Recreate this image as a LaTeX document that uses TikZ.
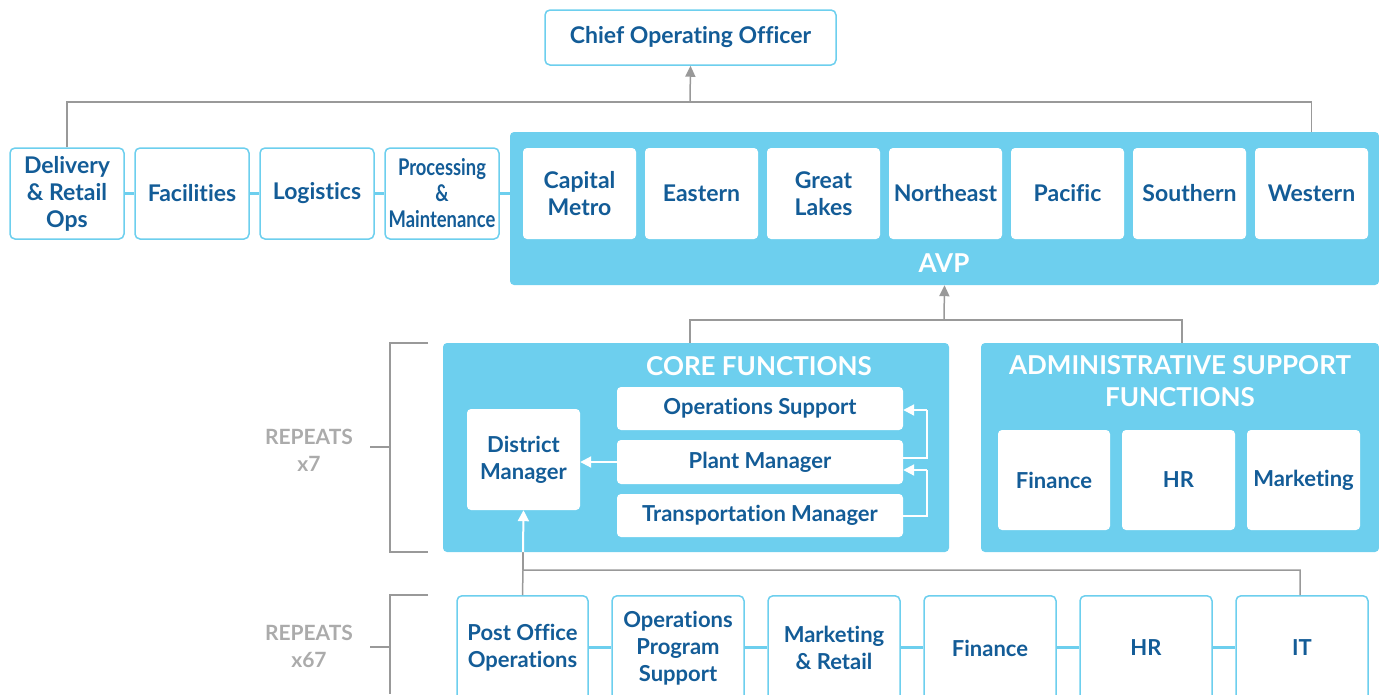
\documentclass[tikz,border=0pt]{standalone}
\usepackage{fontspec}
\setmainfont{Lato}[Ligatures=NoCommon]
\newfontfamily\condfont[FakeStretch=0.8,Ligatures=NoCommon]{Lato}
\usetikzlibrary{arrows.meta}
\definecolor{lb}{HTML}{6DCFEE}
\definecolor{db}{HTML}{135C97}
\definecolor{gl}{HTML}{999999}
\definecolor{gt}{HTML}{ABABAB}
\tikzset{
  obox/.style={draw=lb, line width=1.5pt, rounded corners=5pt, fill=white, text=db, align=center, inner sep=0pt, font=\fontsize{23}{27}\selectfont\bfseries},
  wbox/.style={draw=none, rounded corners=4pt, fill=white, text=db, align=center, inner sep=0pt, font=\fontsize{23}{27}\selectfont\bfseries},
  cbox/.style={wbox, font=\fontsize{22}{27}\selectfont\bfseries},
  panel/.style={draw=none, rounded corners=4pt, fill=lb, inner sep=0pt},
  ptitle/.style={text=white, align=center, font=\fontsize{26}{32}\selectfont\bfseries},
  lbline/.style={draw=lb, line width=3pt},
  gline/.style={draw=gl, line width=1.5pt},
  garrow/.style={draw=gl, line width=1.5pt, -{Triangle[length=11pt,width=10pt]}, fill=gl},
  warrow/.style={draw=white, line width=2pt, -{Triangle[length=11pt,width=11pt]}},
  wline/.style={draw=white, line width=2pt},
  rep/.style={text=gt, align=center, font=\fontsize{21}{27}\selectfont\bfseries},
  btext/.style={text=db, align=center, font=\fontsize{22}{27}\selectfont\bfseries},
}
\begin{document}
\begin{tikzpicture}[x=1pt,y=-1pt]
\useasboundingbox (0,0) rectangle (1379,694);
% top
\node[obox, minimum width=291, minimum height=55] (coo) at (690.5,37.5) {\raisebox{-2pt}{Chief Operating Officer}};
% AVP panel
\node[panel, minimum width=869, minimum height=153] (avp) at (944.5,208.5) {};
\node[ptitle] (avpl) at (944,263) {AVP};
% left top row
\node[obox, minimum width=114, minimum height=91] (dro) at (67,193.5) {Delivery\\\& Retail\\Ops};
\node[obox, minimum width=114, minimum height=91] (fac) at (192,193.5) {Facilities};
\node[obox, minimum width=114, minimum height=91] (log) at (317,193.5) {Logistics};
\node[obox, minimum width=114, minimum height=91, font=\condfont\fontsize{23}{26}\selectfont\bfseries] (pro) at (442,193.5) {Processing\\\&\\Maintenance};
\draw[lbline] (dro) -- (fac);
\draw[lbline] (fac) -- (log);
\draw[lbline] (log) -- (pro);
\draw[lbline] (pro.east) -- (pro.east -| avp.west);
% regions
\node[wbox, minimum width=113, minimum height=91] (cap) at (579.5,193.5) {Capital\\Metro};
\node[wbox, minimum width=113, minimum height=91] (eas) at (701.5,193.5) {Eastern};
\node[wbox, minimum width=113, minimum height=91] (grl) at (823.5,193.5) {Great\\Lakes};
\node[wbox, minimum width=113, minimum height=91] (nor) at (945.5,193.5) {Northeast};
\node[wbox, minimum width=113, minimum height=91] (pac) at (1067.5,193.5) {Pacific};
\node[wbox, minimum width=113, minimum height=91] (sou) at (1189.5,193.5) {Southern};
\node[wbox, minimum width=113, minimum height=91] (wes) at (1311.5,193.5) {Western};
% top connectors
\coordinate (j1) at (690,102);
\draw[gline] (dro.north) |- (j1) -- (wes.center |- j1) -- (wes.center |- avp.north);
\draw[garrow] (j1) -- (coo.south);
% middle panels
\node[panel, minimum width=506, minimum height=209] (core) at (696,447.5) {};
\node[ptitle] (corel) at (759,366) {CORE FUNCTIONS};
\node[panel, minimum width=398, minimum height=209] (adm) at (1180,447.5) {};
\node[ptitle] (adml) at (1180,381.5) {ADMINISTRATIVE SUPPORT\\FUNCTIONS};
\coordinate (j2) at (944,320);
\draw[gline] (690,0 |- core.north) coordinate (ct) -- (ct |- j2) -- (1182,320) coordinate (at) -- (at |- adm.north);
\draw[garrow] (j2) -- (avp.south);
% admin boxes
\node[cbox, minimum width=112, minimum height=100] (fin1) at (1054,480) {Finance};
\node[cbox, minimum width=113, minimum height=100] (hr1) at (1178.5,480) {HR};
\node[cbox, minimum width=113, minimum height=100] (mkt1) at (1303.5,480) {Marketing};
% core boxes
\node[cbox, minimum width=113, minimum height=101] (dm) at (523.5,459.5) {District\\Manager};
\node[cbox, minimum width=286, minimum height=43] (ops) at (760,408.5) {Operations Support};
\node[cbox, minimum width=286, minimum height=44] (plm) at (760,462) {Plant Manager};
\node[cbox, minimum width=286, minimum height=43] (trm) at (760,515.5) {Transportation Manager};
\draw[warrow] (plm.west) -- (plm.west -| dm.east);
\draw[wline] (plm.east |- 0,458) -- (927,458) -- (927,410);
\draw[warrow] (927,410) -- (ops.east |- 0,410);
\draw[wline] (trm.east |- 0,516) -- (927,516) -- (927,470);
\draw[warrow] (927,470) -- (plm.east |- 0,470);
% bottom row
\node[obox, minimum width=131, minimum height=110, anchor=north] (po) at (522.5,595) {};
\node[obox, minimum width=132, minimum height=110, anchor=north] (opp) at (678,595) {};
\node[obox, minimum width=132, minimum height=110, anchor=north] (mr) at (834,595) {};
\node[obox, minimum width=132, minimum height=110, anchor=north] (fin2) at (990,595) {};
\node[obox, minimum width=132, minimum height=110, anchor=north] (hr2) at (1146,595) {};
\node[obox, minimum width=132, minimum height=110, anchor=north] (it) at (1302,595) {};
\node[btext] (pot) at (po.center |- 0,648) {Post Office\\Operations};
\node[btext] (oppt) at (opp.center |- 0,648) {Operations\\Program\\Support};
\node[btext] (mrt) at (mr.center |- 0,648) {Marketing\\\& Retail};
\node[btext] (fint) at (fin2.center |- 0,648) {Finance};
\node[btext] (hrt) at (hr2.center |- 0,648) {HR};
\node[btext] (itt) at (it.center |- 0,648) {IT};
\draw[lbline] (po.east |- 0,647) -- (opp.west |- 0,647);
\draw[lbline] (opp.east |- 0,647) -- (mr.west |- 0,647);
\draw[lbline] (mr.east |- 0,647) -- (fin2.west |- 0,647);
\draw[lbline] (fin2.east |- 0,647) -- (hr2.west |- 0,647);
\draw[lbline] (hr2.east |- 0,647) -- (it.west |- 0,647);
% bottom connectors
\coordinate (j3) at (523,570);
\draw[gline] (po.north) -- (j3) -- (1300,570) coordinate (itj) -- (itj |- it.north);
\draw[gline] (j3) -- (j3 |- core.south);
\draw[warrow] (j3 |- core.south) -- (dm.south);
% repeat brackets
\draw[gline] (428,343) -- (390,343) -- (390,552) -- (428,552);
\draw[gline] (370,447) -- (390,447);
\node[rep] (r7) at (309,450) {REPEATS\\x7};
\draw[gline] (428,595) -- (390,595) -- (390,694);
\draw[gline] (370,647) -- (390,647);
\node[rep] (r67) at (309,646) {REPEATS\\x67};
\end{tikzpicture}
\end{document}
